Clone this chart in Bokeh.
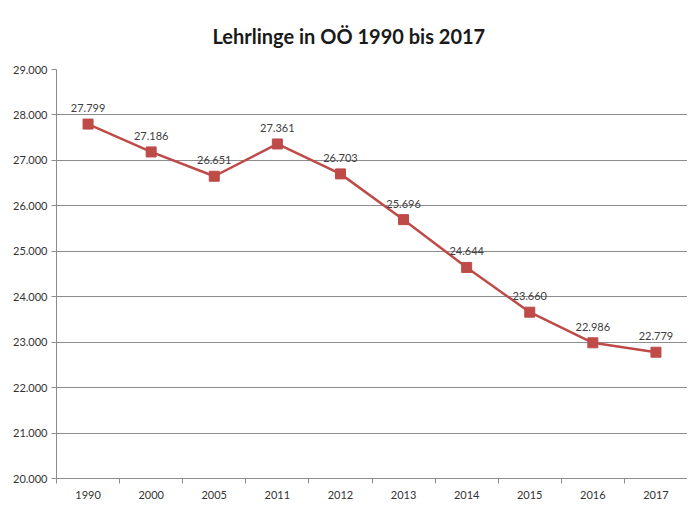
from bokeh.plotting import figure
from bokeh.models import FixedTicker, ColumnDataSource, LabelSet, Range1d
from bokeh.core.properties import value
from bokeh.embed import file_html
from bokeh.resources import INLINE

years = ["1990", "2000", "2005", "2011", "2012", "2013", "2014", "2015", "2016", "2017"]
apprentices = [27799, 27186, 26651, 27361, 26703, 25696, 24644, 23660, 22986, 22779]
y_ticks = [20000, 21000, 22000, 23000, 24000, 25000, 26000, 27000, 28000, 29000]

def fmt(v):
    return f"{v:,}".replace(",", ".")

idx = list(range(len(years)))
src = ColumnDataSource(dict(x=idx, y=apprentices, lab=[fmt(v) for v in apprentices]))

p = figure(width=687, height=504, output_backend="svg", toolbar_location=None,
           x_range=Range1d(-0.5, len(years) - 0.5), y_range=Range1d(20000, 29000),
           min_border_left=56, min_border_right=0, min_border_top=68, min_border_bottom=26)

p.title.text = "Lehrlinge in OÖ 1990 bis 2017"
p.title.align = "left"
p.title.offset = 156
p.title.standoff = 43
p.title.text_font = "Lato"
p.title.text_font_size = "20px"
p.title.text_font_style = "bold"
p.title.text_color = "#1a1a1a"

p.outline_line_color = None
p.xgrid.grid_line_color = None
p.ygrid.ticker = FixedTicker(ticks=y_ticks)
p.ygrid.grid_line_color = "#8c8c8c"
p.ygrid.grid_line_width = 1

p.xaxis.ticker = FixedTicker(ticks=idx, minor_ticks=[i - 0.5 for i in range(len(years) + 1)])
p.xaxis.major_label_overrides = {i: y for i, y in enumerate(years)}
p.xaxis.major_tick_line_color = None
p.xaxis.minor_tick_in = 0
p.xaxis.minor_tick_out = 5
p.xaxis.minor_tick_line_color = "#8c8c8c"
p.xaxis.axis_line_color = "#8c8c8c"
p.xaxis.major_label_standoff = 6

p.yaxis.ticker = FixedTicker(ticks=y_ticks)
p.yaxis.major_label_overrides = {v: fmt(v) for v in y_ticks}
p.yaxis.major_tick_in = 0
p.yaxis.major_tick_out = 5
p.yaxis.minor_tick_line_color = None
p.yaxis.major_tick_line_color = "#8c8c8c"
p.yaxis.axis_line_color = "#8c8c8c"
p.yaxis.major_label_standoff = 4

for ax in (p.xaxis, p.yaxis):
    ax.major_label_text_font = "Lato"
    ax.major_label_text_font_size = "11px"
    ax.major_label_text_color = "#333333"

p.line("x", "y", source=src, line_color="#BE4B48", line_width=2.5)
p.scatter("x", "y", source=src, marker="square", size=10, fill_color="#BE4B48", line_color="#BE4B48")

labels = LabelSet(x="x", y="y", text="lab", source=src, text_align="center",
                  text_baseline="bottom", y_offset=12, text_font=value("Lato"),
                  text_font_size=value("11px"), text_color=value("#404040"))
p.add_layout(labels)

open("out.html", "w").write(file_html(p, INLINE))
